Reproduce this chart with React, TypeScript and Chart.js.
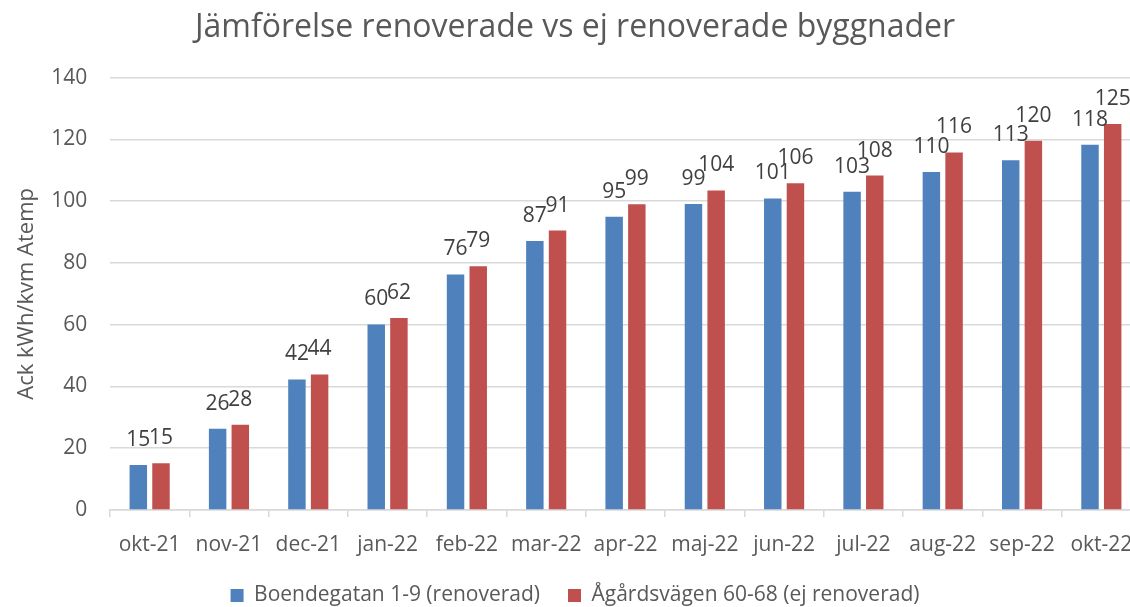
import React, { useEffect, useRef } from "react";
import { Chart, registerables } from "chart.js";

Chart.register(...registerables);

const categories = ["okt-21", "nov-21", "dec-21", "jan-22", "feb-22", "mar-22", "apr-22", "maj-22", "jun-22", "jul-22", "aug-22", "sep-22", "okt-22"];
const boendegatan = [14.6, 26.3, 42.3, 60.1, 76.3, 87.1, 95.0, 99.1, 100.9, 103.1, 109.5, 113.3, 118.3];
const agardsvagen = [15.1, 27.6, 43.9, 62.2, 78.9, 90.5, 99.0, 103.5, 105.8, 108.3, 115.8, 119.6, 125.0];
const yTicks = [0, 20, 40, 60, 80, 100, 120, 140];

const FONT = "'Open Sans', 'Noto Sans', sans-serif";

const dataLabelPlugin = {
  id: "dataLabels",
  afterDatasetsDraw(chart: any) {
    const ctx = chart.ctx;
    ctx.save();
    ctx.font = `21px ${FONT}`;
    ctx.fillStyle = "#404040";
    ctx.textAlign = "center";
    ctx.textBaseline = "alphabetic";
    chart.data.datasets.forEach((ds: any, i: number) => {
      const meta = chart.getDatasetMeta(i);
      meta.data.forEach((bar: any, j: number) => {
        const v = ds.data[j];
        ctx.fillText(String(Math.round(v)), bar.x, bar.y - 19);
      });
    });
    ctx.restore();
  },
};

export default function App() {
  const ref = useRef<HTMLCanvasElement>(null);
  useEffect(() => {
    if (!ref.current) return;
    const chart = new Chart(ref.current, {
      type: "bar",
      data: {
        labels: categories,
        datasets: [
          {
            label: "Boendegatan 1-9 (renoverad)",
            data: boendegatan,
            backgroundColor: "#4F81BD",
            borderWidth: 0,
            categoryPercentage: 0.572,
            barPercentage: 0.77,
          },
          {
            label: "Ågårdsvägen 60-68 (ej renoverad)",
            data: agardsvagen,
            backgroundColor: "#C0504D",
            borderWidth: 0,
            categoryPercentage: 0.572,
            barPercentage: 0.77,
          },
        ],
      },
      options: {
        responsive: false,
        animation: false,
        layout: { padding: { left: 0, right: 0, top: 0, bottom: -9 } },
        plugins: {
          title: {
            display: true,
            text: "Jämförelse renoverade vs ej renoverade byggnader",
            color: "#595959",
            font: { family: FONT, size: 32, weight: "normal" },
            padding: { top: 9, bottom: 30.3 },
          },
          legend: {
            position: "bottom",
            labels: {
              color: "#595959",
              font: { family: FONT, size: 21 },
              boxWidth: 13,
              boxHeight: 13,
              padding: 28,
            },
          },
          tooltip: { enabled: false },
        },
        scales: {
          x: {
            grid: {
              display: true,
              drawOnChartArea: false,
              drawTicks: true,
              tickLength: 7,
              color: "#d9d9d9",
              lineWidth: 1.5,
            },
            border: { display: true, color: "#d9d9d9", width: 1.5 },
            ticks: {
              color: "#595959",
              font: { family: FONT, size: 21 },
              padding: 15,
              maxRotation: 0,
              autoSkip: false,
            },
            afterFit: (s: any) => {
              s.height = 47;
            },
          },
          y: {
            min: 0,
            max: 140,
            afterBuildTicks: (s: any) => {
              s.ticks = yTicks.map((v) => ({ value: v }));
            },
            grid: { color: "#d9d9d9", lineWidth: 1.5, drawTicks: false },
            border: { display: false },
            ticks: {
              color: "#595959",
              font: { family: FONT, size: 21 },
              padding: 22.7,
            },
            title: {
              display: true,
              text: "Ack kWh/kvm Atemp",
              color: "#595959",
              font: { family: FONT, size: 22 },
              padding: { top: 14, bottom: 0 },
            },
            afterFit: (s: any) => {
              s.width = 110;
            },
          },
          yRight: {
            position: "right",
            display: true,
            grid: { display: false },
            border: { display: false },
            ticks: { display: false },
            afterFit: (s: any) => {
              s.width = 9;
            },
          },
        },
      },
      plugins: [dataLabelPlugin],
    } as any);
    return () => chart.destroy();
  }, []);

  return (
    <div style={{ position: "fixed", left: 0, top: 0, width: 1130, height: 607, overflow: "hidden", background: "#fff" }}>
      <canvas ref={ref} width={1150} height={607} style={{ display: "block" }} />
    </div>
  );
}
